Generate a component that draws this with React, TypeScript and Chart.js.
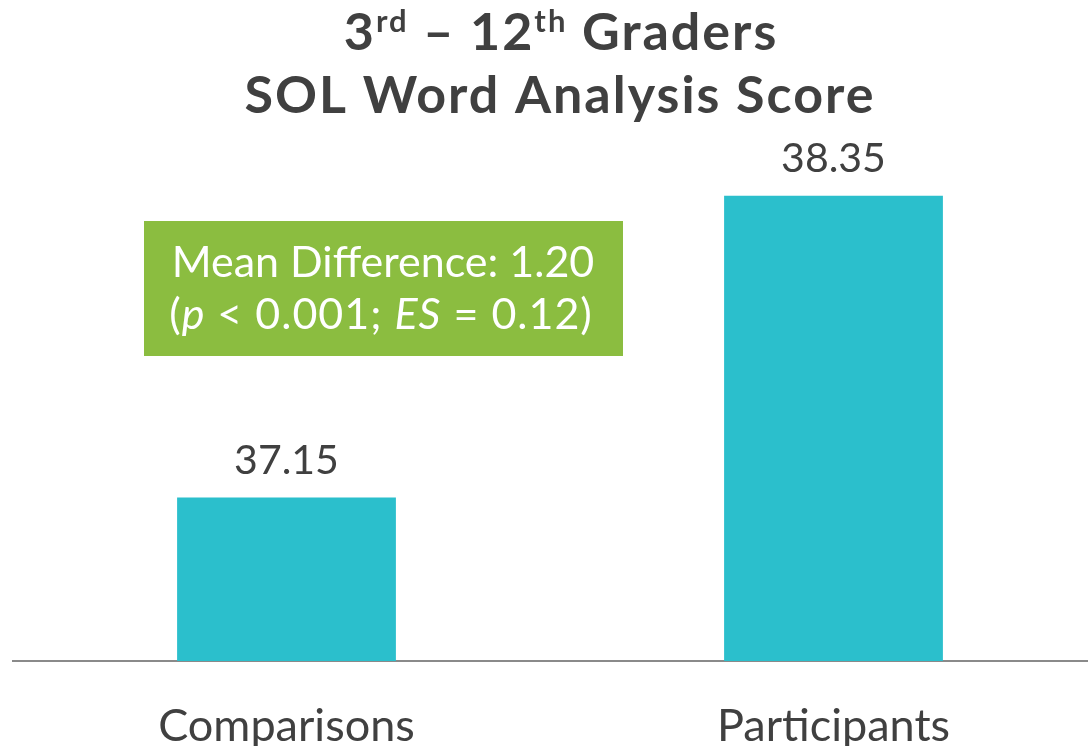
import React, { useEffect, useRef } from "react";
import { Chart, registerables } from "chart.js";

Chart.register(...registerables);

const categories = ["Comparisons", "Participants"];
const scores = [37.15, 38.35];
const scoreLabels = ["37.15", "38.35"];
const yMin = 36.5;
const yMax = 38.5;

const FONT = "Lato, 'Open Sans', sans-serif";
const TEXT = "#404040";
const BAR = "#2bbfcc";
const GREEN = "#8bbd40";

type Seg = { text: string; font: string; dy?: number };

function drawRich(
  ctx: CanvasRenderingContext2D,
  segs: Seg[],
  cx: number,
  baseline: number,
  color: string,
  spacing = 0
) {
  (ctx as any).letterSpacing = spacing + "px";
  let total = 0;
  const widths = segs.map((s) => {
    ctx.font = s.font;
    const w = ctx.measureText(s.text).width;
    total += w;
    return w;
  });
  let x = cx - total / 2;
  ctx.fillStyle = color;
  ctx.textAlign = "left";
  ctx.textBaseline = "alphabetic";
  segs.forEach((s, i) => {
    ctx.font = s.font;
    ctx.fillText(s.text, x, baseline + (s.dy || 0));
    x += widths[i];
  });
  (ctx as any).letterSpacing = "0px";
}

const overlay = {
  id: "overlay",
  afterDatasetsDraw(chart: any) {
    const ctx: CanvasRenderingContext2D = chart.ctx;
    ctx.save();
    // title
    const tb = `bold 52px ${FONT}`;
    const ts = `bold 31px ${FONT}`;
    drawRich(
      ctx,
      [
        { text: "3", font: tb },
        { text: "rd", font: ts, dy: -18 },
        { text: " \u2013 12", font: tb },
        { text: "th", font: ts, dy: -18 },
        { text: " Graders", font: tb },
      ],
      561,
      50,
      TEXT,
      2
    );
    drawRich(ctx, [{ text: "SOL Word Analysis Score", font: tb }], 560, 113, TEXT, 2);

    // value labels
    const meta = chart.getDatasetMeta(0);
    meta.data.forEach((bar: any, i: number) => {
      drawRich(ctx, [{ text: scoreLabels[i], font: `41px ${FONT}` }], bar.x, bar.y - 24, TEXT);
    });

    // annotation box
    ctx.fillStyle = GREEN;
    ctx.fillRect(144, 221, 479, 135);
    const f = `43px ${FONT}`;
    const fi = `italic 43px ${FONT}`;
    drawRich(ctx, [{ text: "Mean Difference: 1.20", font: f }], 383, 277, "#ffffff");
    drawRich(
      ctx,
      [
        { text: "(", font: f },
        { text: "p", font: fi },
        { text: " < 0.001; ", font: f },
        { text: "ES", font: fi },
        { text: " = 0.12)", font: f },
      ],
      381,
      329,
      "#ffffff",
      1
    );
    ctx.restore();
  },
};

export default function App() {
  const ref = useRef<HTMLCanvasElement>(null);
  useEffect(() => {
    if (!ref.current) return;
    const chart = new Chart(ref.current, {
      type: "bar",
      data: {
        labels: categories,
        datasets: [
          {
            data: scores,
            backgroundColor: BAR,
            barPercentage: 0.4,
            categoryPercentage: 1,
          },
        ],
      },
      options: {
        responsive: false,
        animation: false,
        layout: { padding: { top: 158, left: 13, right: 0, bottom: 0 } },
        plugins: { legend: { display: false }, tooltip: { enabled: false }, title: { display: false } },
        scales: {
          x: {
            grid: { display: false },
            border: { display: true, color: "#8a8a8a", width: 2 },
            ticks: { font: { family: FONT, size: 45 }, color: TEXT, padding: 30 },
            afterFit: (s: any) => {
              s.height = 85;
            },
          },
          y: { display: false, min: yMin, max: yMax },
        },
      },
      plugins: [overlay],
    });
    return () => chart.destroy();
  }, []);
  return (
    <div
      style={{
        position: "absolute",
        left: 0,
        top: 0,
        width: 1088,
        height: 746,
        overflow: "hidden",
        background: "#fff",
      }}
    >
      <canvas ref={ref} width={1107} height={746} style={{ display: "block" }} />
    </div>
  );
}
